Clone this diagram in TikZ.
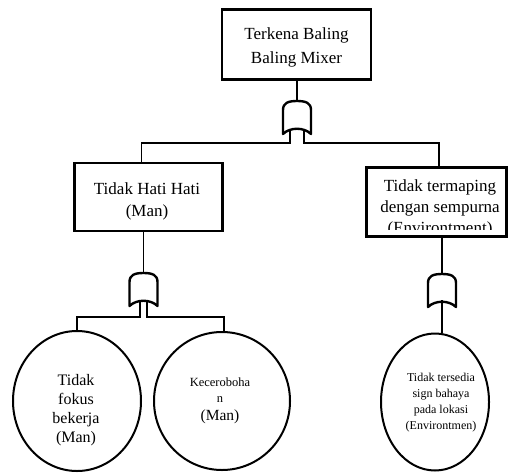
\documentclass[tikz,border=0pt]{standalone}
\usepackage{fontspec}
\setmainfont{Liberation Serif}
\usetikzlibrary{shapes.geometric,calc}
\tikzset{
  boxshape/.style={draw, line width=2.6pt, inner sep=0pt, minimum width=#1},
  evshape/.style={draw, ellipse, line width=2pt, inner sep=0pt},
  conn/.style={draw, line width=1.2pt},
  gateline/.style={draw, line width=2.4pt, line join=round},
  orgate/.pic={\path[gateline] (-14,33) -- (-14,9) .. controls (-14,2) and (-9,0) .. (0,0) .. controls (9,0) and (14,2) .. (14,9) -- (14,33) .. controls (7,26) and (-7,26) .. cycle;},
  bigtxt/.style={align=center, inner sep=0pt, font=\fontsize{17}{22}\selectfont},
}
\begin{document}
\begin{tikzpicture}[x=1pt,y=-1pt]
\useasboundingbox (0,0) rectangle (510,473);
% boxes
\node[boxshape=149pt, minimum height=70pt] (T) at (296.5,44.5) {};
\node[boxshape=148pt, minimum height=68pt] (L) at (148.5,197) {};
\node[boxshape=140pt, minimum height=69pt] (R) at (436.5,202) {};
% texts in boxes
\node[bigtxt, font=\fontsize{17}{24}\selectfont] (Tt) at (296.5,47.5) {Terkena Baling\\Baling Mixer};
\node[bigtxt] (Lt) at (147,201) {Tidak Hati Hati\\(Man)};
\begin{scope}
  \clip (366,167) rectangle (507,229);
  \node[bigtxt, font=\fontsize{17}{21}\selectfont] (Rt) at (440,208) {Tidak termaping\\dengan sempurna\\(Environtment)};
\end{scope}
% basic events
\node[evshape, minimum width=128pt, minimum height=140pt] (C1) at (77,401) {};
\node[evshape, minimum width=136pt, minimum height=138pt] (C2) at (222,401) {};
\node[evshape, minimum width=108pt, minimum height=137pt] (C3) at (435,402) {};
\node[align=center, inner sep=0pt, font=\fontsize{16}{19}\selectfont] (C1t) at (76,410) {Tidak\\fokus\\bekerja\\(Man)};
\node[align=center, inner sep=0pt, font=\fontsize{12.5}{16}\selectfont] (C2t) at (220,401) {Keceroboha\\n\\[2pt]{\fontsize{15.5}{18}\selectfont (Man)}};
\node[align=center, inner sep=0pt, font=\fontsize{12}{16}\selectfont] (C3t) at (441,403) {Tidak tersedia\\sign bahaya\\pada lokasi\\(Environtmen)};
% gates
\coordinate (g1) at (297,101);
\coordinate (g2) at (143.5,273);
\coordinate (g3) at (442,274);
\pic at (g1) {orgate};
\pic at (g2) {orgate};
\pic at (g3) {orgate};
\coordinate (g1l) at (290,129);
\coordinate (g1r) at (304,129);
\coordinate (g2l) at (140,302);
\coordinate (g2r) at (147,302);
\coordinate (g3b) at (442,300);
% connectors
\draw[conn] (g1 |- T.south) -- (g1);
\draw[conn] (g1l) -- ++(0,14) -| ([xshift=-7pt]L.north);
\draw[conn] (g1r) -- ++(0,14) -| ([xshift=2.5pt]R.north);
\draw[conn] (g2 |- L.south) -- (g2);
\draw[conn] (g2l) -- ++(0,15) -| (C1.north);
\draw[conn] (g2r) -- ++(0,15) -| ([xshift=2pt]C2.north);
\draw[conn] (g3 |- R.south) -- (g3);
\draw[conn] (g3b) -- (g3b |- C3.north);
\end{tikzpicture}
\end{document}
